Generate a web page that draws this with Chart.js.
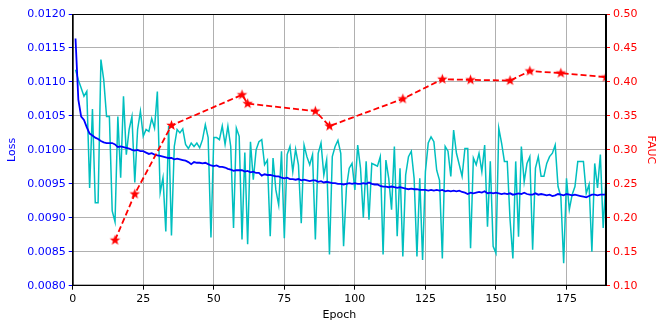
<!DOCTYPE html>
<html>
<head>
<meta charset="utf-8">
<script src="https://cdn.jsdelivr.net/npm/chart.js@4.4.1/dist/chart.umd.min.js"></script>
<style>
  html, body { margin: 0; padding: 0; background: #fff; }
  canvas { display: block; }
</style>
</head>
<body>
<canvas id="myChart" width="657" height="327"></canvas>
<script>
// epochs 1..189
var trainLoss = [
  0.01164, 0.01074, 0.01049, 0.01044, 0.01033, 0.01024, 0.01021, 0.01018, 0.01016, 0.01013,
  0.01011, 0.01010, 0.01010, 0.01010, 0.01008, 0.01004, 0.01005, 0.01004, 0.01003, 0.01002,
  0.01000, 0.00999, 0.01000, 0.00998, 0.00998, 0.00996, 0.00994, 0.00995, 0.00993, 0.00992,
  0.00991, 0.00990, 0.00989, 0.00988, 0.00988, 0.00986, 0.00987, 0.00986, 0.00985, 0.00984,
  0.00982, 0.00979, 0.00982, 0.00981, 0.00981, 0.00980, 0.00981, 0.00979, 0.00977, 0.00976,
  0.00977, 0.00975, 0.00975, 0.00974, 0.00972, 0.00971, 0.00969, 0.00970, 0.00970, 0.00970,
  0.00968, 0.00969, 0.00967, 0.00968, 0.00966, 0.00966, 0.00962, 0.00964, 0.00963, 0.00963,
  0.00962, 0.00961, 0.00961, 0.00959, 0.00958, 0.00959, 0.00957, 0.00957, 0.00956, 0.00957,
  0.00955, 0.00956, 0.00955, 0.00954, 0.00955, 0.00955, 0.00953, 0.00954, 0.00952, 0.00953,
  0.00952, 0.00951, 0.00951, 0.00950, 0.00950, 0.00949, 0.00950, 0.00951, 0.00950, 0.00951,
  0.00950, 0.00950, 0.00951, 0.00950, 0.00952, 0.00950, 0.00949, 0.00949, 0.00947, 0.00946,
  0.00946, 0.00945, 0.00946, 0.00945, 0.00944, 0.00945, 0.00944, 0.00943, 0.00942, 0.00943,
  0.00942, 0.00942, 0.00941, 0.00941, 0.00941, 0.00940, 0.00941, 0.00940, 0.00941, 0.00940,
  0.00941, 0.00939, 0.00940, 0.00939, 0.00940, 0.00939, 0.00940, 0.00938, 0.00937, 0.00935,
  0.00937, 0.00936, 0.00937, 0.00938, 0.00937, 0.00939, 0.00936, 0.00937, 0.00936, 0.00937,
  0.00936, 0.00935, 0.00936, 0.00935, 0.00936, 0.00934, 0.00935, 0.00936, 0.00935, 0.00937,
  0.00935, 0.00934, 0.00934, 0.00936, 0.00934, 0.00935, 0.00934, 0.00933, 0.00934, 0.00932,
  0.00933, 0.00935, 0.00934, 0.00933, 0.00935, 0.00934, 0.00933, 0.00934, 0.00933, 0.00932,
  0.00931, 0.00930, 0.00932, 0.00934, 0.00934, 0.00933, 0.00934, 0.00934, 0.00934
];

var valLoss = [
  0.01118, 0.01103, 0.01091, 0.01079, 0.01086, 0.00944, 0.01060, 0.00922, 0.00922, 0.01133,
  0.01103, 0.01049, 0.01049, 0.00910, 0.00894, 0.01049, 0.00959, 0.01079, 0.00993, 0.01030,
  0.01049, 0.00952, 0.01030, 0.01057, 0.01020, 0.01030, 0.01027, 0.01046, 0.01032, 0.01086,
  0.00937, 0.00959, 0.00880, 0.01035, 0.00874, 0.01005, 0.01030, 0.01025, 0.01031, 0.01008,
  0.01002, 0.01010, 0.01005, 0.01010, 0.01003, 0.01015, 0.01037, 0.01018, 0.00871, 0.01018,
  0.01018, 0.01015, 0.01035, 0.01008, 0.01035, 0.01005, 0.00885, 0.01032, 0.01020, 0.00868,
  0.00996, 0.00861, 0.01012, 0.00956, 0.01000, 0.01012, 0.01015, 0.00978, 0.00985, 0.00873,
  0.00988, 0.00941, 0.00919, 0.00998, 0.00870, 0.00993, 0.01005, 0.00968, 0.01001, 0.00978,
  0.00892, 0.01007, 0.00990, 0.00978, 0.00993, 0.00868, 0.00995, 0.01010, 0.00963, 0.00985,
  0.00846, 0.00990, 0.01005, 0.01014, 0.00995, 0.00858, 0.00944, 0.00973, 0.00980, 0.00941,
  0.01007, 0.00973, 0.00900, 0.00983, 0.00897, 0.00980, 0.00978, 0.00976, 0.00990, 0.00846,
  0.00985, 0.00958, 0.00912, 0.01005, 0.00873, 0.00973, 0.00843, 0.00963, 0.00990, 0.00998,
  0.00958, 0.00843, 0.00958, 0.00838, 0.00968, 0.01010, 0.01019, 0.01012, 0.00970, 0.00955,
  0.00840, 0.01005, 0.00998, 0.00961, 0.01029, 0.00995, 0.00978, 0.00961, 0.01002, 0.01002,
  0.00855, 0.00988, 0.00978, 0.00995, 0.00968, 0.01007, 0.00887, 0.00983, 0.00858, 0.00848,
  0.01032, 0.01010, 0.00983, 0.00983, 0.00897, 0.00840, 0.00983, 0.00872, 0.01005, 0.00953,
  0.00980, 0.00990, 0.00853, 0.00973, 0.00990, 0.00961, 0.00961, 0.00980, 0.00990, 0.00995,
  0.01007, 0.00946, 0.00931, 0.00833, 0.00958, 0.00912, 0.00934, 0.00946, 0.00983, 0.00983,
  0.00983, 0.00936, 0.00949, 0.00850, 0.00980, 0.00944, 0.00993, 0.00885, 0.00958
];

var faucEpochs = [15, 22, 35, 60, 62, 86, 91, 117, 131, 141, 155, 162, 173, 189];
var faucValues = [0.167, 0.235, 0.336, 0.381, 0.368, 0.357, 0.335, 0.375, 0.404, 0.403, 0.402, 0.416, 0.413, 0.407];

var blue = "#0000ff";
var cyan = "#00bfbf";
var red = "#ff0000";

function makeStar(r, color) {
    var c = document.createElement("canvas");
    var s = Math.ceil(r * 2 + 2);
    c.width = s; c.height = s;
    var g = c.getContext("2d");
    g.beginPath();
    for (var i = 0; i < 10; i++) {
        var rad = (i % 2) ? r * 0.42 : r;
        var a = -Math.PI / 2 + i * Math.PI / 5;
        g.lineTo(s / 2 + rad * Math.cos(a), s / 2 + rad * Math.sin(a));
    }
    g.closePath();
    g.fillStyle = color;
    g.fill();
    return c;
}

var trainPts = trainLoss.map(function (v, i) { return { x: i + 1, y: v }; });
var valPts = valLoss.map(function (v, i) { return { x: i + 1, y: v }; });
var faucPts = faucEpochs.map(function (e, i) { return { x: e, y: faucValues[i] }; });

var font = { family: "'DejaVu Sans', sans-serif", size: 11 };

var frame = {
    id: "frame",
    afterDatasetsDraw: function (chart) {
        var a = chart.chartArea, ctx = chart.ctx;
        ctx.save();
        ctx.strokeStyle = "#000";
        ctx.lineWidth = 1;
        ctx.strokeRect(a.left + 0.5, a.top + 0.5, a.right - a.left - 1, a.bottom - a.top - 1);
        ctx.restore();
    }
};

new Chart("myChart", {
    type: "line",
    data: {
        datasets: [{
            label: "FAUC",
            data: faucPts,
            yAxisID: "y1",
            borderColor: red,
            backgroundColor: red,
            borderWidth: 1.8,
            borderDash: [6, 3],
            pointStyle: makeStar(5.5, red),
            pointRadius: 5,
            order: 0
        }, {
            label: "train",
            data: trainPts,
            yAxisID: "y",
            borderColor: blue,
            borderWidth: 1.8,
            pointRadius: 0,
            order: 1
        }, {
            label: "val",
            data: valPts,
            yAxisID: "y",
            borderColor: cyan,
            borderWidth: 1.5,
            pointRadius: 0,
            order: 2
        }]
    },
    options: {
        responsive: false,
        animation: false,
        layout: { padding: { top: 14, left: 0, right: 0, bottom: 0 } },
        plugins: { legend: { display: false }, tooltip: { enabled: false } },
        scales: {
            x: {
                type: "linear",
                min: 0,
                max: 189,
                afterFit: function (s) { s.height = 41.3; },
                ticks: { stepSize: 25, includeBounds: false, color: "#000", font: font, padding: 3, maxRotation: 0 },
                grid: { color: "#b0b0b0", lineWidth: 1, tickColor: "#000", tickLength: 4 },
                border: { color: "#000" },
                title: { display: true, text: "Epoch", color: "#000", font: font, padding: { top: 0, bottom: 5 } }
            },
            y: {
                position: "left",
                min: 0.008,
                max: 0.012,
                afterFit: function (s) { s.width = 72.7; },
                ticks: {
                    stepSize: 0.0005, includeBounds: false, color: blue, font: font, padding: 3,
                    callback: function (v) { return v.toFixed(4); }
                },
                grid: { color: "#b0b0b0", lineWidth: 1, tickColor: blue, tickLength: 4 },
                border: { color: "#000" },
                title: { display: true, text: "Loss", color: blue, font: font, padding: { top: 6, bottom: 0 } }
            },
            y1: {
                position: "right",
                min: 0.1,
                max: 0.5,
                afterFit: function (s) { s.width = 51; },
                ticks: {
                    stepSize: 0.05, includeBounds: false, color: red, font: font, padding: 3,
                    callback: function (v) { return v.toFixed(2); }
                },
                grid: { drawOnChartArea: false, tickColor: red, tickLength: 4 },
                border: { color: "#000" },
                title: { display: true, text: "FAUC", color: red, font: font, padding: { top: 0, bottom: 0 } }
            }
        }
    },
    plugins: [frame]
});
</script>
</body>
</html>
